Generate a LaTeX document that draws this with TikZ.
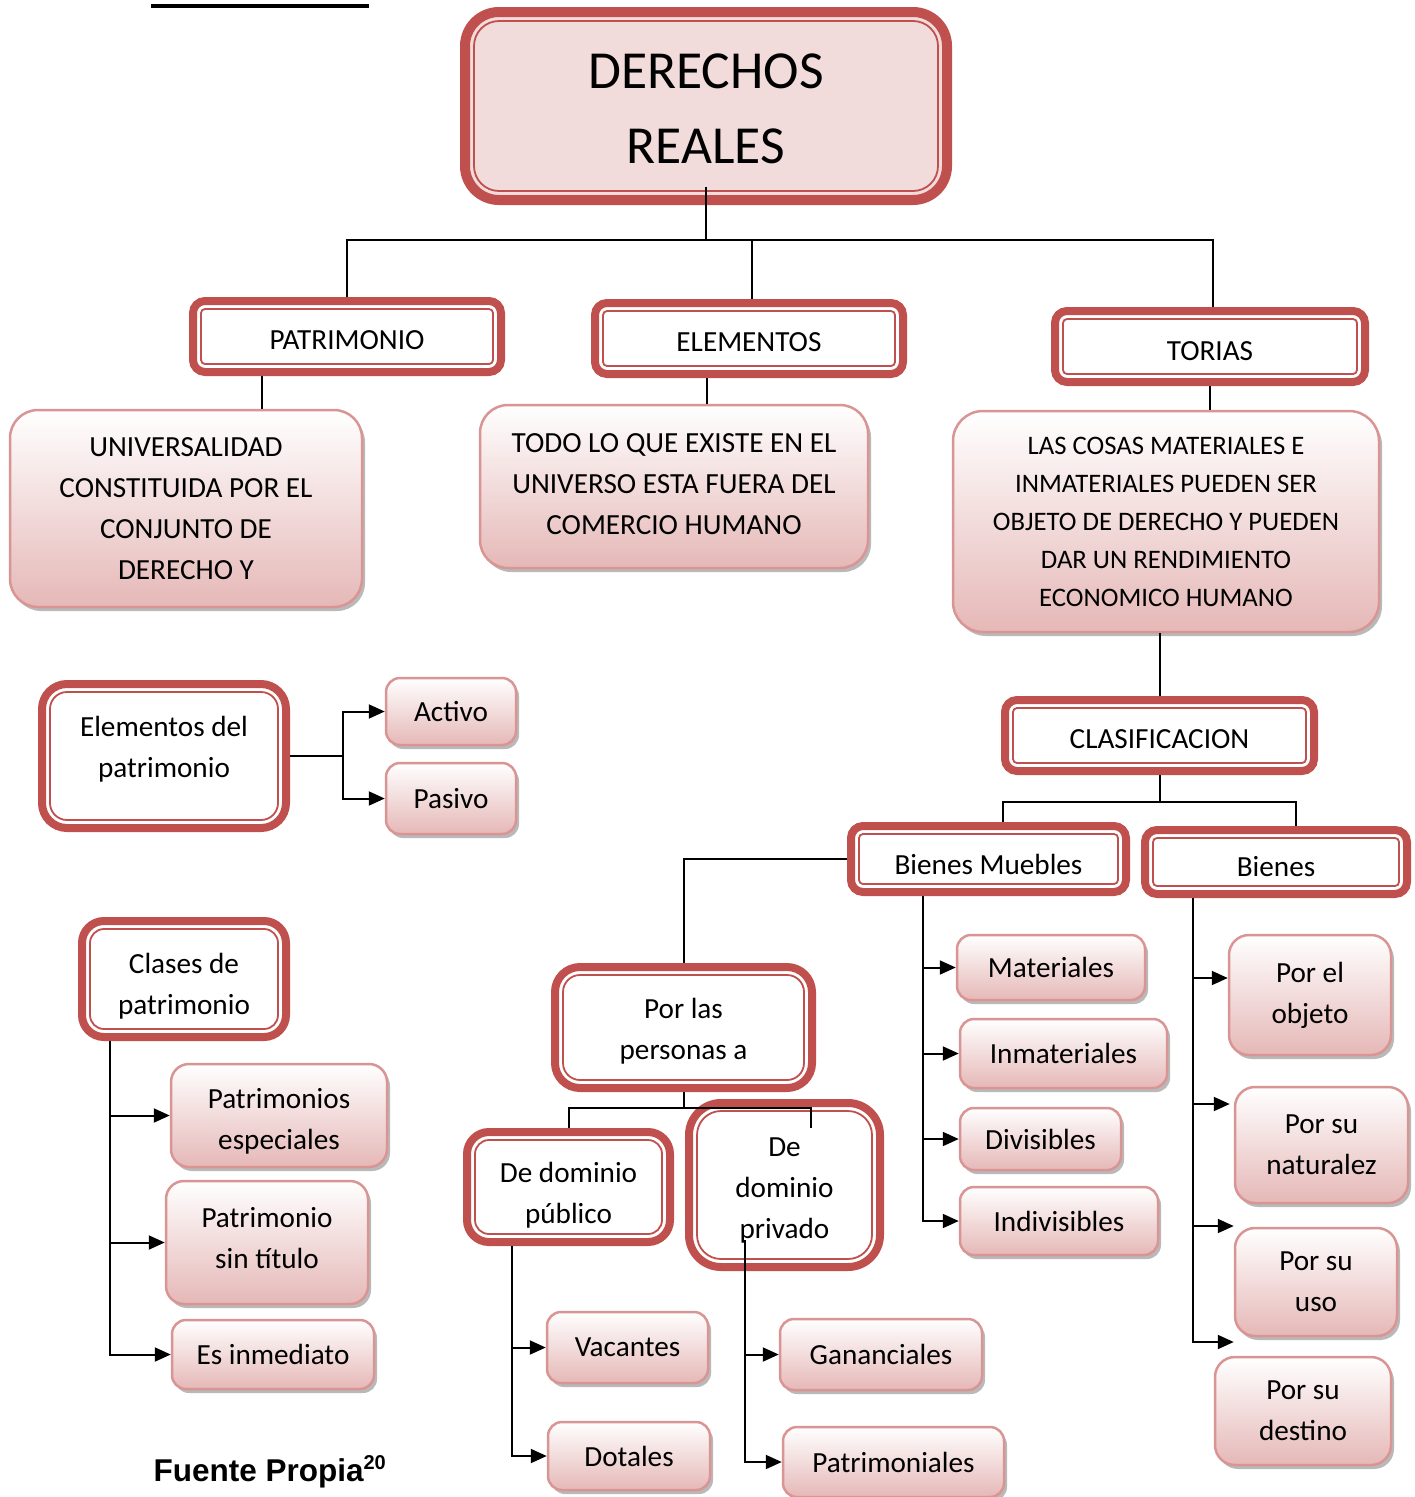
\documentclass[tikz,border=0pt]{standalone}
\usepackage{fontspec}
\setmainfont{Carlito}
\newfontfamily\srcfont{Liberation Sans}
\usetikzlibrary{arrows.meta,shadows,calc}

\definecolor{rd}{HTML}{C0504D}
\definecolor{titlefill}{HTML}{F2DCDB}
\definecolor{softline}{HTML}{D99594}
\definecolor{softbot}{HTML}{E5B8B7}

\newcommand\szA{\fontsize{29.2}{41}\selectfont}
\newcommand\szC{\fontsize{26.7}{38}\selectfont}
\newcommand\szT{\fontsize{53.5}{75}\selectfont}
% invisible struts that move a text block up or down inside its box
\newcommand\sTop[1]{\rule{0pt}{\dimexpr 36pt+#1pt\relax}}
\newcommand\sBot[1]{\rule[\dimexpr -17pt+#1pt\relax]{0pt}{0pt}}
% thin inner outline of the framed boxes
\newcommand\innerframe[2]{%
  \draw[rd, line width=1.8pt, rounded corners=#2]
    ([shift={(#1,-#1)}]path picture bounding box.north west) rectangle
    ([shift={(-#1,#1)}]path picture bounding box.south east);}

\tikzset{
  dbl/.style={draw=rd, line width=8pt, fill=white, rounded corners=#1,
    inner sep=0pt, outer sep=4pt, align=center, font=\szA,
    path picture={\innerframe{8pt}{#1-8pt}}},
  dbl/.default=12pt,
  titlebox/.style={draw=rd, line width=10pt, fill=titlefill, rounded corners=34pt,
    inner sep=0pt, outer sep=5pt, align=center, font=\szT,
    path picture={\innerframe{9pt}{25pt}}},
  soft/.style={draw=softline, line width=2.5pt, rounded corners=#1,
    top color=white, bottom color=softbot, inner sep=0pt, outer sep=1.25pt,
    align=center, font=\szA,
    drop shadow={shadow xshift=3pt, shadow yshift=-4pt, fill=black!50, opacity=.55}},
  soft/.default=14pt,
  ln/.style={draw=black, line width=2pt},
  arr/.style={ln, -{Triangle[length=16pt,width=14pt]}}
}

\begin{document}
\begin{tikzpicture}[x=1pt,y=-1pt]
\useasboundingbox (0,0) rectangle (1414,1497);

% heading rule
\fill (151,4) rectangle (369,7.5);

% ---- top level
\node[titlebox, minimum width=482pt, minimum height=188pt] (title) at (706,106) {\sTop{10}DERECHOS\\REALES\sBot{10}};

\node[dbl, minimum width=308pt, minimum height=71pt] (patr) at (347,336.5) {\sTop{3}PATRIMONIO\sBot{3}};
\node[dbl, minimum width=308pt, minimum height=71pt] (elem) at (749,338.5) {\sTop{3}ELEMENTOS\sBot{3}};
\node[dbl, minimum width=310pt, minimum height=71pt] (tor)  at (1210,346.5) {\sTop{4}TORIAS\sBot{4}};

\node[soft=28pt, minimum width=352pt, minimum height=197pt] (univ) at (186,508.5)
  {UNIVERSALIDAD\\CONSTITUIDA POR EL\\CONJUNTO DE\\DERECHO Y};
\node[soft=28pt, minimum width=388pt, minimum height=163pt] (todo) at (674,486.5)
  {\sTop{-3}TODO LO QUE EXISTE EN EL\\UNIVERSO ESTA FUERA DEL\\COMERCIO HUMANO\sBot{-3}};
\node[soft=30pt, font=\szC, minimum width=426pt, minimum height=221pt] (las) at (1166,521.5)
  {LAS COSAS MATERIALES E\\INMATERIALES PUEDEN SER\\OBJETO DE DERECHO Y PUEDEN\\DAR UN RENDIMIENTO\\ECONOMICO HUMANO};

% ---- clasificacion branch
\node[dbl, minimum width=309pt, minimum height=71pt] (clas) at (1159.5,735.5) {\sTop{3}CLASIFICACION\sBot{3}};
\node[dbl, minimum width=275pt, minimum height=66pt] (bm) at (988.5,859) {\sTop{6}Bienes Muebles\sBot{6}};
\node[dbl, minimum width=262pt, minimum height=64pt] (bie) at (1276,862) {\sTop{5}Bienes\sBot{5}};

\node[soft, minimum width=188pt, minimum height=65pt] (mat) at (1051,967.5) {Materiales};
\node[soft, minimum width=207pt, minimum height=69pt] (inm) at (1063.5,1053.5) {Inmateriales};
\node[soft, minimum width=161pt, minimum height=62pt] (div) at (1040.5,1139) {Divisibles};
\node[soft, minimum width=198pt, minimum height=68pt] (ind) at (1059,1221) {Indivisibles};

\node[soft=20pt, minimum width=162pt, minimum height=120pt] (obj) at (1310,995) {Por el\\objeto};
\node[soft=20pt, minimum width=173pt, minimum height=116pt] (nat) at (1321.5,1145) {Por su\\naturalez};
\node[soft=20pt, minimum width=162pt, minimum height=108pt] (uso) at (1316,1282) {Por su\\uso};
\node[soft=20pt, minimum width=176pt, minimum height=108pt] (dest) at (1303,1411) {Por su\\destino};

\node[dbl=25pt, minimum width=257pt, minimum height=121pt] (pla) at (683.5,1027.5) {\sTop{2}Por las\\personas a\sBot{2}};
\node[dbl=22pt, minimum width=203pt, minimum height=110pt] (pub) at (568.5,1187) {\sTop{6}De dominio\\público\sBot{6}};
\node[dbl=32pt, minimum width=191pt, minimum height=164pt] (priv) at (784.5,1185) {\sTop{3}De\\dominio\\privado\sBot{3}};

\node[soft, minimum width=161pt, minimum height=71pt] (vac) at (627.5,1347.5) {Vacantes};
\node[soft, minimum width=162pt, minimum height=68pt] (dot) at (629,1456) {Dotales};
\node[soft, minimum width=202pt, minimum height=71pt] (gan) at (881,1354.5) {Gananciales};
\node[soft, minimum width=221pt, minimum height=70pt] (patm) at (893.5,1462) {Patrimoniales};

% ---- left column
\node[dbl=25pt, minimum width=244pt, minimum height=144pt] (elp) at (164,756) {\sTop{-9}Elementos del\\patrimonio\sBot{-9}};
\node[soft, minimum width=130pt, minimum height=67pt] (act) at (451,711.5) {Activo};
\node[soft, minimum width=130pt, minimum height=71pt] (pas) at (451,798.5) {Pasivo};

\node[dbl=22pt, minimum width=204pt, minimum height=116pt] (clp) at (184,979) {\sTop{5}Clases de\\patrimonio\sBot{5}};
\node[soft=18pt, minimum width=216pt, minimum height=103pt] (pe) at (279,1115.5) {\sTop{4}Patrimonios\\especiales\sBot{4}};
\node[soft=18pt, minimum width=202pt, minimum height=123pt] (pst) at (267,1242.5) {\sTop{-4}Patrimonio\\sin título\sBot{-4}};
\node[soft, minimum width=202pt, minimum height=69pt] (ei) at (273,1354.5) {Es inmediato};

\node[anchor=base west, font=\srcfont\bfseries\fontsize{31.5}{36}\selectfont] (src) at (150,1481)
  {Fuente Propia\raisebox{12pt}{\fontsize{20}{20}\selectfont 20}};

% ---- connectors
\coordinate (jtop) at (706,240);
\draw[ln] ([yshift=18pt]title.south) -- (jtop);
\draw[ln] (jtop) -| (patr.north);
\draw[ln] (jtop) -| ([xshift=3pt]elem.north);
\draw[ln] (jtop) -| ([xshift=3pt]tor.north);

\draw[ln] ([xshift=-85pt]patr.south) -- ([xshift=-85pt]patr.south |- univ.north);
\draw[ln] ([xshift=-42pt]elem.south) -- ([xshift=-42pt]elem.south |- todo.north);
\draw[ln] (tor.south) -- (tor.south |- las.north);
\draw[ln] (las.south -| clas.north) -- (clas.north);

\coordinate (jcl) at (1159.5,802);
\draw[ln] (clas.south) -- (jcl);
\draw[ln] ([xshift=14pt]bm.north) |- (jcl) -| ([xshift=20pt]bie.north);
\draw[ln] (bm.west) -| (pla.north);

\coordinate (bmS) at ([xshift=-66pt]bm.south);
\draw[arr] (bmS) |- (ind.west);
\foreach \n in {mat,inm,div} \draw[arr] (bmS |- \n.west) -- (\n.west);

\coordinate (bieS) at ([xshift=-83pt]bie.south);
\coordinate (objIn) at ([yshift=17pt]obj.west);
\coordinate (natIn) at ([shift={(-4pt,41pt)}]nat.west);
\coordinate (usoIn) at ([yshift=56pt]uso.west);
\coordinate (destIn) at ([shift={(20pt,69pt)}]dest.west);
\draw[arr] (bieS) |- (destIn);
\foreach \c in {objIn,natIn,usoIn} \draw[arr] (bieS |- \c) -- (\c);

\coordinate (jpl) at (683.5,1108);
\draw[ln] (pla.south) -- (jpl);
\coordinate (privIn) at ([xshift=26.5pt]priv.north |- pub.north);
\draw[ln] (pub.north) |- (jpl) -| (privIn);

\coordinate (pubS) at ([xshift=-56.5pt]pub.south);
\draw[arr] (pubS) |- (dot.west);
\draw[arr] (pubS |- vac.west) -- (vac.west);

\coordinate (privS) at ([shift={(-39.5pt,31pt)}]priv.south);
\draw[arr] (privS) |- (patm.west);
\draw[arr] (privS |- gan.west) -- (gan.west);

\coordinate (jel) at (343,756);
\draw[ln] (elp.east) -- (jel);
\draw[arr] (jel) |- (act.west);
\draw[arr] (jel) |- (pas.west);

\coordinate (clS) at ([xshift=-74pt]clp.south);
\draw[arr] (clS) |- (ei.west);
\draw[arr] (clS |- pe.west) -- (pe.west);
\draw[arr] (clS |- pst.west) -- (pst.west);
\end{tikzpicture}
\end{document}
